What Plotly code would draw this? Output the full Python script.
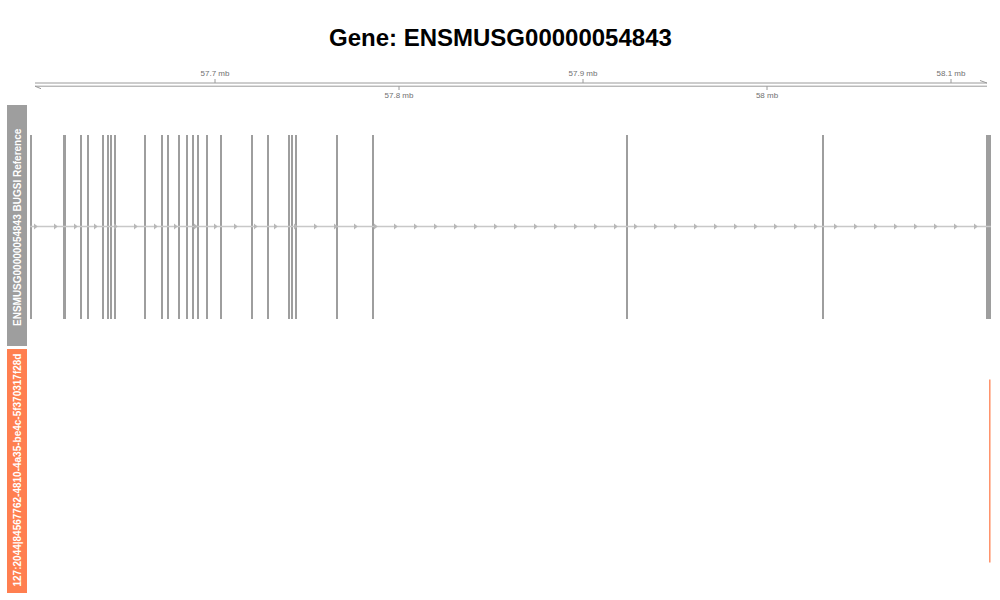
import numpy as np
import plotly.graph_objects as go

# ---------------- data ----------------
title = "Gene: ENSMUSG00000054843"
gene_track_name = "ENSMUSG00000054843 BUGSI Reference"
data_track_name = "127:2044|84567762-4810-4a35-be4c-5f370317f28d"

# exon coordinates (bp)
exon_start = [57599600, 57617400, 57626700, 57630500, 57638700, 57641400, 57643000,
              57645200, 57661500, 57670700, 57673800, 57680000, 57684300, 57687600,
              57690300, 57695200, 57702800, 57719700, 57728400, 57739800, 57741400,
              57743600, 57765900, 57785400, 57923500, 58030000, 58119000]
exon_end = [57600400, 57619000, 57627600, 57631400, 57639600, 57642300, 57643900,
            57646100, 57662400, 57671600, 57675100, 57680900, 57685200, 57688500,
            57691200, 57696100, 57703700, 57720600, 57729300, 57740700, 57742300,
            57744500, 57766800, 57786300, 57924400, 58030900, 58121700]

# data track: single feature at the gene's 3' end
feature_pos = [58121100]

# genome axis ticks
tick_mb = [57.7, 57.8, 57.9, 58.0, 58.1]
tick_labels = ["57.7 mb", "57.8 mb", "57.9 mb", "58 mb", "58.1 mb"]

# plotted range (bp)
x_min, x_max = 57598370, 58122283

# ---------------- styling ----------------
GRAY = "#9E9E9E"
CORAL = "#FF7F50"
AXIS_GRAY = "#9A9A9A"
FONT = "Liberation Sans, Arial, Helvetica, sans-serif"

W, H = 1000, 600
def py(p):  # pixel row -> paper y
    return 1 - p / H

fig = go.Figure()

# --- gene track (yaxis) ---
gene_start, gene_end = exon_start[0], exon_end[-1]
fig.add_trace(go.Scatter(x=[gene_start, gene_end], y=[0, 0], mode="lines",
                         line=dict(color="#C8C8C8", width=1.5),
                         hoverinfo="skip", showlegend=False, xaxis="x", yaxis="y"))
step = (x_max - x_min) / 964 * 20
arrows = np.arange(gene_start + 2700, gene_end - 4000, step)
fig.add_trace(go.Scatter(x=arrows, y=np.zeros_like(arrows), mode="markers",
                         marker=dict(symbol="triangle-right", size=5, color="#B8B8B8"),
                         hoverinfo="skip", showlegend=False, xaxis="x", yaxis="y"))
centers = [(s + e) / 2 for s, e in zip(exon_start, exon_end)]
widths = [e - s for s, e in zip(exon_start, exon_end)]
fig.add_trace(go.Bar(x=centers, width=widths, base=[-0.76] * len(centers),
                     y=[1.52] * len(centers), marker=dict(color=GRAY, line=dict(width=0)),
                     hoverinfo="skip", showlegend=False, xaxis="x", yaxis="y"))

# --- data track (yaxis2) ---
for p in feature_pos:
    fig.add_trace(go.Scatter(x=[p, p], y=[-0.75, 0.75], mode="lines",
                             line=dict(color=CORAL, width=1.3),
                             hoverinfo="skip", showlegend=False, xaxis="x", yaxis="y2"))

# --- genome axis track (yaxis3, units ~ pixel rows, reversed) ---
ax_l = x_min + (x_max - x_min) * 7 / 964
ax_r = x_max - (x_max - x_min) * 5 / 964
d = (x_max - x_min) / 964  # bp per pixel
fig.add_trace(go.Scatter(x=[ax_l, ax_r, None, ax_l, ax_r, None, ax_r - 7 * d, ax_r, None, ax_l, ax_l + 6 * d],
                         y=[83, 83, None, 86.2, 86.2, None, 80.5, 83, None, 86.2, 88.7],
                         mode="lines", line=dict(color=AXIS_GRAY, width=1),
                         hoverinfo="skip", showlegend=False, xaxis="x", yaxis="y3"))
tx, ty = [], []
for i, t in enumerate(tick_mb):
    xb = t * 1e6
    if i % 2 == 0:
        tx += [xb, xb, None]; ty += [79, 83, None]
    else:
        tx += [xb, xb, None]; ty += [86.2, 90, None]
fig.add_trace(go.Scatter(x=tx, y=ty, mode="lines", line=dict(color=AXIS_GRAY, width=1),
                         hoverinfo="skip", showlegend=False, xaxis="x", yaxis="y3"))
fig.add_trace(go.Scatter(x=[t * 1e6 for t in tick_mb],
                         y=[74 if i % 2 == 0 else 96 for i in range(len(tick_mb))],
                         text=tick_labels, mode="text",
                         textfont=dict(size=8, color="#707070", family=FONT),
                         hoverinfo="skip", showlegend=False, xaxis="x", yaxis="y3"))

# --- layout ---
noax = dict(visible=False, fixedrange=True)
fig.update_layout(
    width=W, height=H, margin=dict(l=0, r=0, t=0, b=0),
    paper_bgcolor="white", plot_bgcolor="rgba(0,0,0,0)",
    bargap=0,
    xaxis=dict(domain=[0.028, 0.992], range=[x_min, x_max], **noax),
    yaxis=dict(domain=[py(347.5), py(105.5)], range=[-1, 1], **noax),
    yaxis2=dict(domain=[py(593), py(349)], range=[-1, 1], **noax),
    yaxis3=dict(domain=[py(105), py(60)], range=[105, 60], **noax),
    shapes=[
        dict(type="rect", xref="paper", yref="paper", x0=0.007, x1=0.027,
             y0=py(346), y1=py(105), fillcolor=GRAY, line=dict(width=0), layer="below"),
        dict(type="rect", xref="paper", yref="paper", x0=0.007, x1=0.027,
             y0=py(593), y1=py(349), fillcolor=CORAL, line=dict(width=0), layer="below"),
    ],
    annotations=[
        dict(text=title, x=0.5, y=py(37.5), xref="paper", yref="paper", showarrow=False,
             xanchor="center", yanchor="middle",
             font=dict(size=24, color="black", family=FONT, weight="bold")),
        dict(text=gene_track_name, x=0.017, y=py(227), xref="paper", yref="paper",
             showarrow=False, textangle=-90, xanchor="center", yanchor="middle",
             font=dict(size=10, color="white", family=FONT, weight="bold")),
        dict(text=data_track_name, x=0.017, y=py(470.5), xref="paper", yref="paper",
             showarrow=False, textangle=-90, xanchor="center", yanchor="middle",
             font=dict(size=10, color="white", family=FONT, weight="bold")),
    ],
)

fig.write_html("out.html")
